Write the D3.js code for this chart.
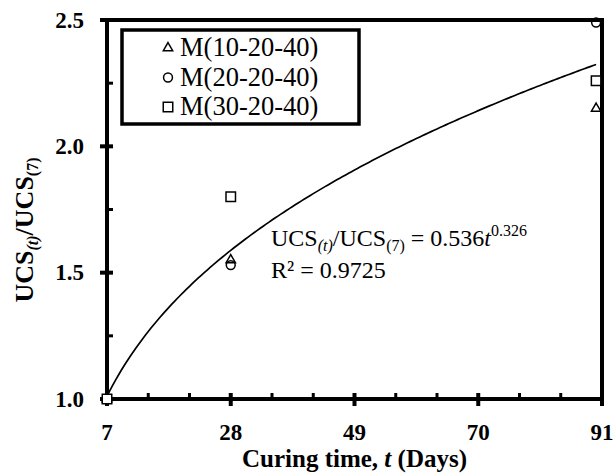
<!DOCTYPE html>
<html>
<head>
<meta charset="utf-8">
<script src="https://cdn.jsdelivr.net/npm/d3@7"></script>
<style>
  html, body { margin: 0; padding: 0; background: #fff; }
  svg { display: block; font-family: "Liberation Serif", "Times New Roman", Times, serif; }
</style>
</head>
<body>
<svg id="chart" width="616" height="475"></svg>
<script>
// Curing-time samples (days) and UCS ratio per mix
const curingDays = [7, 28, 90];
const mixNames = ["M(10-20-40)", "M(20-20-40)", "M(30-20-40)"];
const mixSymbols = ["triangle", "circle", "square"];
const ratioM10 = [1.00, 1.55, 2.15];
const ratioM20 = [1.00, 1.53, 2.49];
const ratioM30 = [1.00, 1.80, 2.26];
const mixRatios = [ratioM10, ratioM20, ratioM30];

// Power-law fit shown on the chart: UCS(t)/UCS(7) = a * t^b
const fitA = 0.536;
const fitB = 0.326;
const fitR2 = "0.9725";
const fitRange = [7, 90];

// Axis ticks
const xMajorTicks = [7, 28, 49, 70, 91];
const xMinorTicks = [14, 21, 35, 42, 56, 63, 77, 84];
const yMajorTicks = [1.0, 1.5, 2.0, 2.5];
const yMinorTicks = [1.25, 1.75, 2.25];

const svg = d3.select("#chart");
const margin = { left: 107, top: 20, right: 14, bottom: 76 };
const W = 616, H = 475;
const x = d3.scaleLinear().domain([7, 91]).range([margin.left, W - margin.right]);
const y = d3.scaleLinear().domain([1.0, 2.5]).range([H - margin.bottom, margin.top]);

const x0 = x.range()[0], x1 = x.range()[1];
const y0 = y.range()[0], y1 = y.range()[1];

// Fitted curve
const fitT = d3.range(fitRange[0], fitRange[1] + 0.001, 0.5);
const line = d3.line().x(d => x(d)).y(d => y(fitA * Math.pow(d, fitB)));
svg.append("path").datum(fitT)
  .attr("d", line)
  .attr("fill", "none").attr("stroke", "#000").attr("stroke-width", 1.7);

// Frame
svg.append("rect")
  .attr("x", x0).attr("y", y1).attr("width", x1 - x0).attr("height", y0 - y1)
  .attr("fill", "none").attr("stroke", "#000").attr("stroke-width", 4);

// Ticks
const tickG = svg.append("g").attr("stroke", "#000");
tickG.selectAll(".xmaj").data(xMajorTicks).join("line")
  .attr("x1", d => x(d)).attr("x2", d => x(d))
  .attr("y1", y0 - 6).attr("y2", y0 + 7).attr("stroke-width", 4);
tickG.selectAll(".xmin").data(xMinorTicks).join("line")
  .attr("x1", d => x(d)).attr("x2", d => x(d))
  .attr("y1", y0 - 6).attr("y2", y0).attr("stroke-width", 3);
tickG.selectAll(".ymaj").data(yMajorTicks).join("line")
  .attr("y1", d => y(d)).attr("y2", d => y(d))
  .attr("x1", x0 - 7).attr("x2", x0 + 6).attr("stroke-width", 4);
tickG.selectAll(".ymin").data(yMinorTicks).join("line")
  .attr("y1", d => y(d)).attr("y2", d => y(d))
  .attr("x1", x0).attr("x2", x0 + 6).attr("stroke-width", 3);

// Tick labels
svg.selectAll(".xlab").data(xMajorTicks).join("text")
  .attr("x", d => x(d)).attr("y", y0 + 41)
  .attr("text-anchor", "middle").attr("font-weight", "bold").attr("font-size", 23)
  .text(d => d);
svg.selectAll(".ylab").data(yMajorTicks).join("text")
  .attr("x", x0 - 23).attr("y", d => y(d)).attr("dy", "0.34em")
  .attr("text-anchor", "end").attr("font-weight", "bold").attr("font-size", 23)
  .text(d => d.toFixed(1));

// Axis titles
const xt = svg.append("text")
  .attr("x", (x0 + x1) / 2).attr("y", 467)
  .attr("text-anchor", "middle").attr("font-weight", "bold").attr("font-size", 25);
xt.append("tspan").text("Curing time, ");
xt.append("tspan").attr("font-style", "italic").text("t");
xt.append("tspan").text(" (Days)");

const yt = svg.append("text")
  .attr("transform", "translate(33,230) rotate(-90)")
  .attr("text-anchor", "middle").attr("font-weight", "bold").attr("font-size", 26);
yt.append("tspan").text("UCS");
yt.append("tspan").attr("font-style", "italic").attr("font-size", 16).attr("dy", 5).text("(t)");
yt.append("tspan").attr("dy", -5).text("/UCS");
yt.append("tspan").attr("font-size", 16).attr("dy", 5).text("(7)");

// Markers
const symbolGen = {
  triangle: d3.symbol().type(d3.symbolTriangle).size(38),
  circle: d3.symbol().type(d3.symbolCircle).size(62),
  square: d3.symbol().type(d3.symbolSquare).size(90)
};
function drawMarker(g, kind, cx, cy) {
  g.append("path")
    .attr("d", symbolGen[kind]())
    .attr("transform", `translate(${cx},${cy})`)
    .attr("fill", kind === "square" ? "#fff" : "none")
    .attr("stroke", "#000").attr("stroke-width", 1.5);
}
const markerG = svg.append("g");
mixRatios.forEach((vals, i) => {
  vals.forEach((v, j) => drawMarker(markerG, mixSymbols[i], x(curingDays[j]), y(v)));
});

// Legend
const lg = svg.append("g");
lg.append("rect").attr("x", 122).attr("y", 30).attr("width", 237).attr("height", 94)
  .attr("fill", "#fff").attr("stroke", "#000").attr("stroke-width", 3.5);
mixNames.forEach((name, i) => {
  const cy = 48 + i * 29.5;
  drawMarker(lg, mixSymbols[i], 168, cy);
  lg.append("text").attr("x", 180).attr("y", cy + 8)
    .attr("font-size", 26.5).text(name);
});

// Fit equation
const eq = svg.append("text").attr("x", 271).attr("y", 246).attr("font-size", 24);
eq.append("tspan").text("UCS");
eq.append("tspan").attr("font-style", "italic").attr("font-size", 16).attr("dy", 5).text("(t)");
eq.append("tspan").attr("dy", -5).text("/UCS");
eq.append("tspan").attr("font-size", 16).attr("dy", 5).text("(7)");
eq.append("tspan").attr("dy", -5).text(` = ${fitA}`);
eq.append("tspan").attr("font-style", "italic").text("t");
eq.append("tspan").attr("font-size", 16).attr("dy", -10).text(fitB);
svg.append("text").attr("x", 271).attr("y", 278).attr("font-size", 24)
  .text(`R² = ${fitR2}`);
</script>
</body>
</html>
